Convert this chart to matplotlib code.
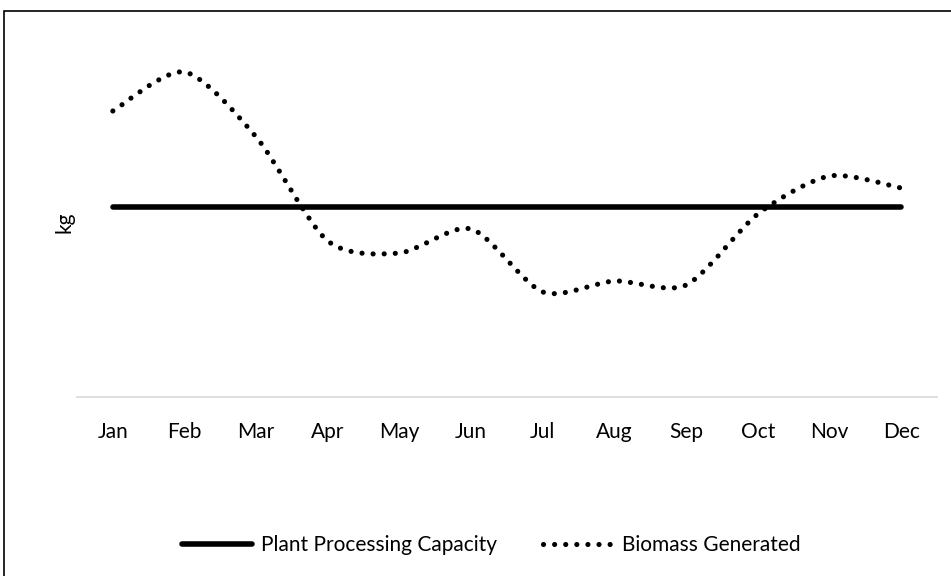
import numpy as np
import matplotlib
matplotlib.use("Agg")
import matplotlib.pyplot as plt
from matplotlib.path import Path
from matplotlib.patches import PathPatch, Rectangle
from matplotlib.lines import Line2D

plt.rcParams['font.family'] = ['Lato', 'DejaVu Sans']

# Data (arbitrary kg units, no y scale shown)
months = ['Jan', 'Feb', 'Mar', 'Apr', 'May', 'Jun',
          'Jul', 'Aug', 'Sep', 'Oct', 'Nov', 'Dec']
capacity = [190] * 12
biomass = [286, 325, 260, 156, 144, 168, 105, 116, 112, 183, 221, 209]

FS = 15

fig = plt.figure(figsize=(9.51, 5.76), dpi=100)
W, H = 951, 576
ax = fig.add_axes([77 / W, (H - 397) / H, (937 - 77) / W, (397 - 47) / H])

x = np.arange(len(months))

# capacity line
ax.plot(x, capacity, color='black', lw=4, solid_capstyle='round')

# smoothed biomass line (Excel style bezier through the points)
pts = np.column_stack([x, biomass]).astype(float)
ext = np.vstack([pts[0], pts, pts[-1]])
k = 1 / 7.5
verts = [tuple(pts[0])]
codes = [Path.MOVETO]
for i in range(len(pts) - 1):
    p0, p1, p2, p3 = ext[i], ext[i + 1], ext[i + 2], ext[i + 3]
    c1 = p1 + (p2 - p0) * k
    c2 = p2 - (p3 - p1) * k
    verts += [tuple(c1), tuple(c2), tuple(p2)]
    codes += [Path.CURVE4] * 3
patch = PathPatch(Path(verts, codes), fill=False, edgecolor='black',
                  lw=3.7, linestyle=(0, (0.01, 2.15)), capstyle='round')
ax.add_patch(patch)

ax.set_xlim(-0.5, len(months) - 0.5)
ax.set_ylim(0, 350)
ax.set_xticks(x)
ax.set_xticklabels(months, fontsize=FS)
ax.tick_params(axis='x', length=0, pad=18)
ax.set_yticks([])
ax.set_ylabel('kg', fontsize=FS, labelpad=2)
for s in ['top', 'right', 'left']:
    ax.spines[s].set_visible(False)
ax.spines['bottom'].set_color('#d9d9d9')
ax.spines['bottom'].set_linewidth(1.2)

handles = [Line2D([], [], color='black', lw=4, solid_capstyle='round'),
           Line2D([], [], color='black', lw=3.7, linestyle=(0, (0.01, 2.15)),
                  dash_capstyle='round')]
fig.legend(handles, ['Plant Processing Capacity', 'Biomass Generated'],
           loc='center', bbox_to_anchor=(491 / W, (H - 545) / H), ncol=2,
           frameon=False, fontsize=FS, handlelength=3.4, handletextpad=0.4,
           columnspacing=2.2)

# outer chart border
fig.patches.append(Rectangle((4 / W, -0.1), 1.1, (H - 11) / H + 0.1,
                             transform=fig.transFigure, fill=False,
                             edgecolor='black', lw=1.2))

fig.savefig('out.png', dpi=100)
